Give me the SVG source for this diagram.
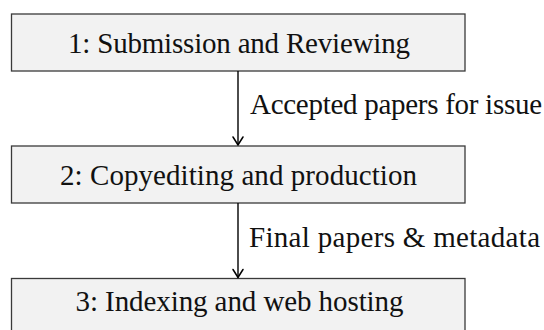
<svg xmlns="http://www.w3.org/2000/svg" width="544" height="330" viewBox="0 0 544 330">
  <defs>
    <style>
      .box { fill: #f2f2f2; stroke: #3a3a3a; stroke-width: 1.3; }
      .txt { font-family: "Liberation Serif", "Times New Roman", serif; font-size: 29px; fill: #111; }
      .edge { stroke: #000; stroke-width: 1.4; fill: none; }
    </style>
    <!-- curved "to"-style arrow tip, x axis along the line -->
    <marker id="arrowhead" viewBox="-10 -7 12 14" markerWidth="12" markerHeight="14" refX="0" refY="0" orient="auto" markerUnits="userSpaceOnUse">
      <path d="M-8,-5 Q-2.5,-1.5 0,0 Q-2.5,1.5 -8,5" stroke="#000" stroke-width="1.5" fill="none" stroke-linecap="round" stroke-linejoin="round"/>
    </marker>
  </defs>

  <rect width="544" height="330" fill="#ffffff"/>

  <!-- stage nodes -->
  <g id="node-submission">
    <rect class="box" x="11.5" y="14" width="453.5" height="57"/>
    <text class="txt" x="68" y="52.5" textLength="342" lengthAdjust="spacing">1: Submission and Reviewing</text>
  </g>

  <g id="node-copyediting">
    <rect class="box" x="11.5" y="146" width="453.5" height="57"/>
    <text class="txt" x="60" y="185" textLength="357" lengthAdjust="spacing">2: Copyediting and production</text>
  </g>

  <g id="node-indexing">
    <rect class="box" x="11.5" y="278.5" width="453.5" height="57"/>
    <text class="txt" x="75.5" y="311" textLength="328" lengthAdjust="spacing">3: Indexing and web hosting</text>
  </g>

  <!-- connectors with their labels -->
  <g id="connectors">
    <line class="edge" x1="238" y1="71" x2="238" y2="145" marker-end="url(#arrowhead)"/>
    <text class="txt" x="250" y="114" textLength="292" lengthAdjust="spacing">Accepted papers for issue</text>

    <line class="edge" x1="238" y1="203" x2="238" y2="277.5" marker-end="url(#arrowhead)"/>
    <text class="txt" x="249" y="246.5" textLength="291" lengthAdjust="spacing">Final papers &amp; metadata</text>
  </g>
</svg>
